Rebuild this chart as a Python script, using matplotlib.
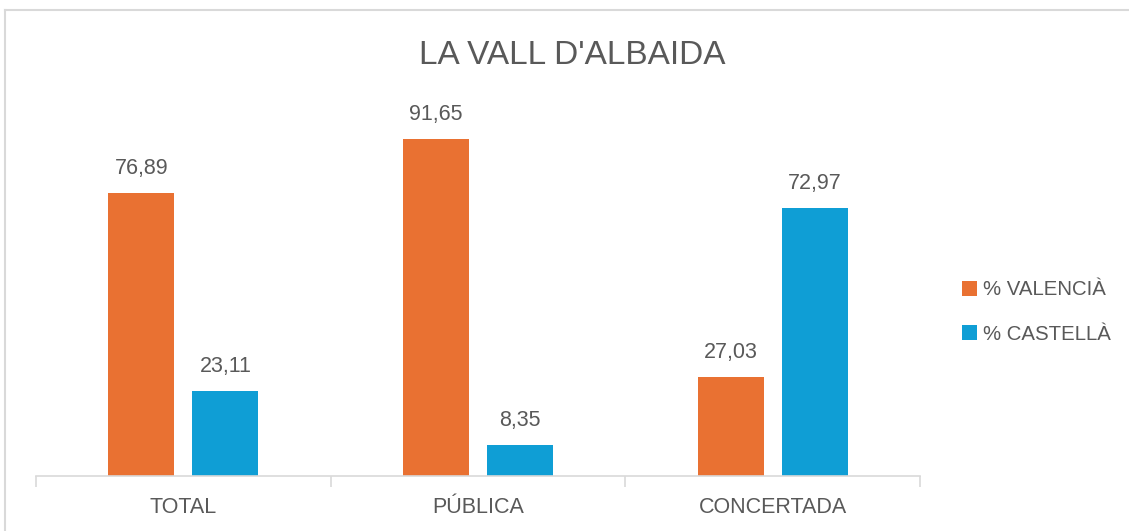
import numpy as np
import matplotlib.pyplot as plt
from matplotlib.lines import Line2D

# data
categories = ['TOTAL', 'PÚBLICA', 'CONCERTADA']
valencia = [76.89, 91.65, 27.03]
castella = [23.11, 8.35, 72.97]
series_names = ['% VALENCIÀ', '% CASTELLÀ']

orange = '#E97132'
blue = '#0F9ED5'
grey = '#595959'

plt.rcParams['font.family'] = ['Liberation Sans', 'DejaVu Sans']

fig = plt.figure(figsize=(11.29, 5.31), dpi=100)
ax = fig.add_axes([36 / 1129, 55 / 531, 884 / 1129, 367.7 / 531])

x = np.arange(len(categories))
w = 0.224
off = 0.1425
b1 = ax.bar(x - off, valencia, w, color=orange, label=series_names[0])
b2 = ax.bar(x + off, castella, w, color=blue, label=series_names[1])

fmt = lambda v: ('%.2f' % v).replace('.', ',')
for bars, vals in ((b1, valencia), (b2, castella)):
    ax.bar_label(bars, labels=[fmt(v) for v in vals], padding=10,
                 fontsize=15.5, color=grey)

ax.set_xlim(-0.5, len(categories) - 0.5)
ax.set_ylim(0, 100)
ax.set_xticks(x)
ax.set_xticklabels(categories, fontsize=15.5, color=grey)
ax.set_xticks(np.arange(len(categories) + 1) - 0.5, minor=True)
ax.tick_params(axis='x', which='major', length=0, pad=15)
ax.tick_params(axis='x', which='minor', length=8, color='#D9D9D9', width=1.2)
ax.set_yticks([])
for s in ['top', 'right', 'left']:
    ax.spines[s].set_visible(False)
ax.spines['bottom'].set_color('#D9D9D9')
ax.spines['bottom'].set_linewidth(1.2)

fig.text(0.507, 1 - 56 / 531, "LA VALL D'ALBAIDA", ha='center', va='center',
         fontsize=24, color=grey)

leg = fig.legend(handles=[b1, b2], loc='upper left',
                 bbox_to_anchor=(944 / 1129, 1 - 262 / 531), frameon=False,
                 fontsize=14.7, labelcolor=grey, handlelength=0.72,
                 handleheight=0.72, handletextpad=0.3, labelspacing=1.25)

# chart border
fig.add_artist(Line2D([5 / 1129, 1.01], [1 - 10 / 531] * 2, color='#D9D9D9',
                      lw=1.5, transform=fig.transFigure))
fig.add_artist(Line2D([5 / 1129] * 2, [-0.01, 1 - 10 / 531], color='#D9D9D9',
                      lw=1.5, transform=fig.transFigure))

fig.savefig('out.png', dpi=100)
